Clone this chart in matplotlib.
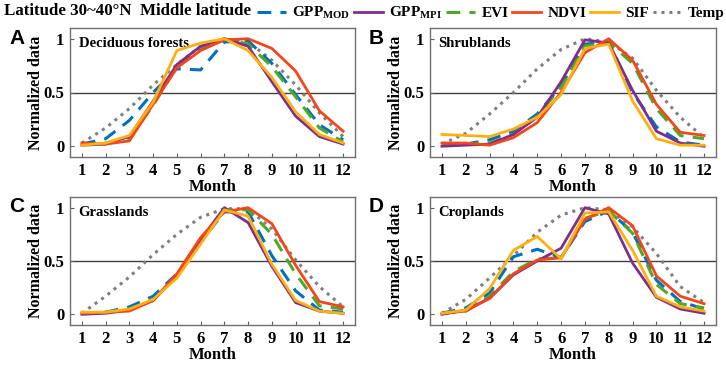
import matplotlib
matplotlib.use("Agg")
import matplotlib.pyplot as plt
import numpy as np

plt.rcParams['font.family'] = ['Liberation Serif', 'DejaVu Serif']
plt.rcParams['font.weight'] = 'bold'
plt.rcParams['mathtext.fontset'] = 'custom'
plt.rcParams['mathtext.rm'] = 'Liberation Serif:bold'
plt.rcParams['mathtext.bf'] = 'Liberation Serif:bold'
plt.rcParams['mathtext.it'] = 'Liberation Serif:bold'

months = list(range(1, 13))
series_names = ['GPP$_{\\mathbf{MOD}}$', 'GPP$_{\\mathbf{MPI}}$', 'EVI', 'NDVI', 'SIF', 'Temp']
panel_letters = ['A', 'B', 'C', 'D']
panel_titles = ['Deciduous forests', 'Shrublands', 'Grasslands', 'Croplands']
title_text = 'Latitude 30~40\u00b0N  Middle latitude'
yticks = [0, 0.5, 1]
ytick_labels = ['0', '0.5', '1']

# Panel A: Deciduous forests
A_gpp_mod = [0.02, 0.07, 0.24, 0.50, 0.72, 0.71, 0.97, 0.98, 0.77, 0.48, 0.20, 0.06]
A_gpp_mpi = [0.01, 0.02, 0.09, 0.42, 0.76, 0.93, 1.00, 0.93, 0.60, 0.28, 0.09, 0.02]
A_evi     = [0.02, 0.03, 0.07, 0.38, 0.74, 0.91, 1.00, 0.95, 0.74, 0.46, 0.17, 0.04]
A_ndvi    = [0.03, 0.02, 0.05, 0.39, 0.73, 0.89, 0.99, 1.00, 0.91, 0.70, 0.33, 0.14]
A_sif     = [0.01, 0.03, 0.10, 0.41, 0.89, 0.96, 1.00, 0.89, 0.64, 0.32, 0.11, 0.03]
A_temp    = [0.03, 0.17, 0.35, 0.57, 0.76, 0.93, 1.00, 0.97, 0.80, 0.57, 0.31, 0.09]

# Panel B: Shrublands
B_gpp_mod = [0.02, 0.02, 0.06, 0.14, 0.30, 0.56, 0.95, 0.97, 0.50, 0.18, 0.04, 0.01]
B_gpp_mpi = [0.00, 0.01, 0.02, 0.11, 0.27, 0.60, 0.99, 0.96, 0.52, 0.14, 0.03, 0.00]
B_evi     = [0.02, 0.02, 0.03, 0.11, 0.28, 0.55, 0.93, 0.97, 0.77, 0.35, 0.10, 0.07]
B_ndvi    = [0.03, 0.03, 0.01, 0.08, 0.22, 0.50, 0.87, 1.00, 0.80, 0.39, 0.13, 0.10]
B_sif     = [0.11, 0.10, 0.09, 0.16, 0.27, 0.48, 0.91, 0.95, 0.42, 0.07, 0.01, 0.01]
B_temp    = [0.02, 0.12, 0.30, 0.50, 0.72, 0.90, 1.00, 0.97, 0.82, 0.52, 0.27, 0.08]

# Panel C: Grasslands
C_gpp_mod = [0.01, 0.02, 0.07, 0.17, 0.38, 0.68, 0.96, 0.96, 0.55, 0.22, 0.04, 0.02]
C_gpp_mpi = [0.00, 0.01, 0.04, 0.13, 0.36, 0.70, 1.00, 0.86, 0.45, 0.11, 0.03, 0.01]
C_evi     = [0.01, 0.02, 0.05, 0.13, 0.37, 0.68, 0.98, 0.98, 0.75, 0.38, 0.08, 0.05]
C_ndvi    = [0.01, 0.02, 0.03, 0.13, 0.38, 0.72, 0.96, 1.00, 0.85, 0.46, 0.12, 0.07]
C_sif     = [0.02, 0.02, 0.05, 0.14, 0.34, 0.66, 0.98, 0.92, 0.47, 0.13, 0.03, 0.01]
C_temp    = [0.01, 0.17, 0.35, 0.56, 0.75, 0.91, 0.99, 0.99, 0.80, 0.51, 0.26, 0.07]

# Panel D: Croplands
D_gpp_mod = [0.01, 0.06, 0.20, 0.54, 0.61, 0.53, 0.87, 0.97, 0.77, 0.32, 0.12, 0.05]
D_gpp_mpi = [0.00, 0.04, 0.15, 0.37, 0.50, 0.62, 1.00, 0.94, 0.48, 0.16, 0.05, 0.01]
D_evi     = [0.01, 0.03, 0.17, 0.40, 0.52, 0.53, 0.90, 0.97, 0.76, 0.28, 0.10, 0.06]
D_ndvi    = [0.01, 0.03, 0.15, 0.38, 0.51, 0.53, 0.89, 1.00, 0.83, 0.36, 0.17, 0.10]
D_sif     = [0.01, 0.04, 0.24, 0.60, 0.73, 0.52, 0.95, 0.96, 0.60, 0.17, 0.07, 0.03]
D_temp    = [0.01, 0.14, 0.34, 0.55, 0.77, 0.93, 1.00, 0.98, 0.82, 0.57, 0.26, 0.11]

panels = [
    [A_gpp_mod, A_gpp_mpi, A_evi, A_ndvi, A_sif, A_temp],
    [B_gpp_mod, B_gpp_mpi, B_evi, B_ndvi, B_sif, B_temp],
    [C_gpp_mod, C_gpp_mpi, C_evi, C_ndvi, C_sif, C_temp],
    [D_gpp_mod, D_gpp_mpi, D_evi, D_ndvi, D_sif, D_temp],
]

colors = ['#0072BD', '#7E2F8E', '#4FA82A', '#F5451A', '#FDB010', '#7F7F7F']
styles = [(0, (4.5, 3)), '-', (0, (4.5, 3)), '-', '-', (0, (1, 1.6))]
widths = [2.2, 2.0, 2.2, 2.0, 2.0, 2.2]
zorders = [3, 4, 3, 5, 6, 2]

W, H = 726, 365
fig = plt.figure(figsize=(W / 100, H / 100), dpi=100)

# pixel boxes: left, right, top, bottom
boxes = [(70, 355, 28, 157), (430, 716, 28, 157), (70, 355, 197, 325), (430, 716, 197, 325)]
axes = []
for i, (l, r, t, b) in enumerate(boxes):
    ax = fig.add_axes([l / W, (H - b) / H, (r - l) / W, (b - t) / H])
    axes.append(ax)
    ax.axhline(0.5, color='#404040', lw=1.0, zorder=1)
    handles = []
    for j in range(6):
        h, = ax.plot(months, panels[i][j], color=colors[j], linestyle=styles[j],
                     lw=widths[j], zorder=zorders[j], label=series_names[j])
        handles.append(h)
    ax.set_xlim(0.5, 12.5)
    ax.set_ylim(-0.1, 1.1)
    ax.set_xticks(months)
    ax.set_xticklabels([str(m) for m in months], fontsize=12, fontweight='bold')
    ax.set_yticks(yticks)
    ax.set_yticklabels(ytick_labels, fontsize=12, fontweight='bold')
    ax.tick_params(direction='in', length=3, width=0.8, color='#606060', pad=4)
    for s in ax.spines.values():
        s.set_color('#707070')
        s.set_linewidth(1.0)
    ax.set_xlabel('Month', fontsize=12, fontweight='bold', labelpad=0)
    ax.set_ylabel('Normalized data', fontsize=11.5, fontweight='bold', labelpad=0)
    ax.text(0.03, 0.93, panel_titles[i], transform=ax.transAxes, fontsize=10.5,
            fontweight='bold', ha='left', va='top')
    fig.text((l - 61) / W, (H - t - 10) / H, panel_letters[i], fontsize=15,
             fontweight='bold', family='Liberation Sans', ha='left', va='center')

fig.text(4 / W, 1 - 11 / H, title_text, fontsize=12.2, fontweight='bold', ha='left', va='center')

fig.legend(handles=handles, labels=series_names, loc='center right',
           bbox_to_anchor=(1.0, 1 - 13 / H), ncol=6, frameon=False,
           fontsize=11, handlelength=1.9, handletextpad=0.4, columnspacing=0.25,
           borderaxespad=0, borderpad=0.1)

fig.savefig('out.png', dpi=100)
